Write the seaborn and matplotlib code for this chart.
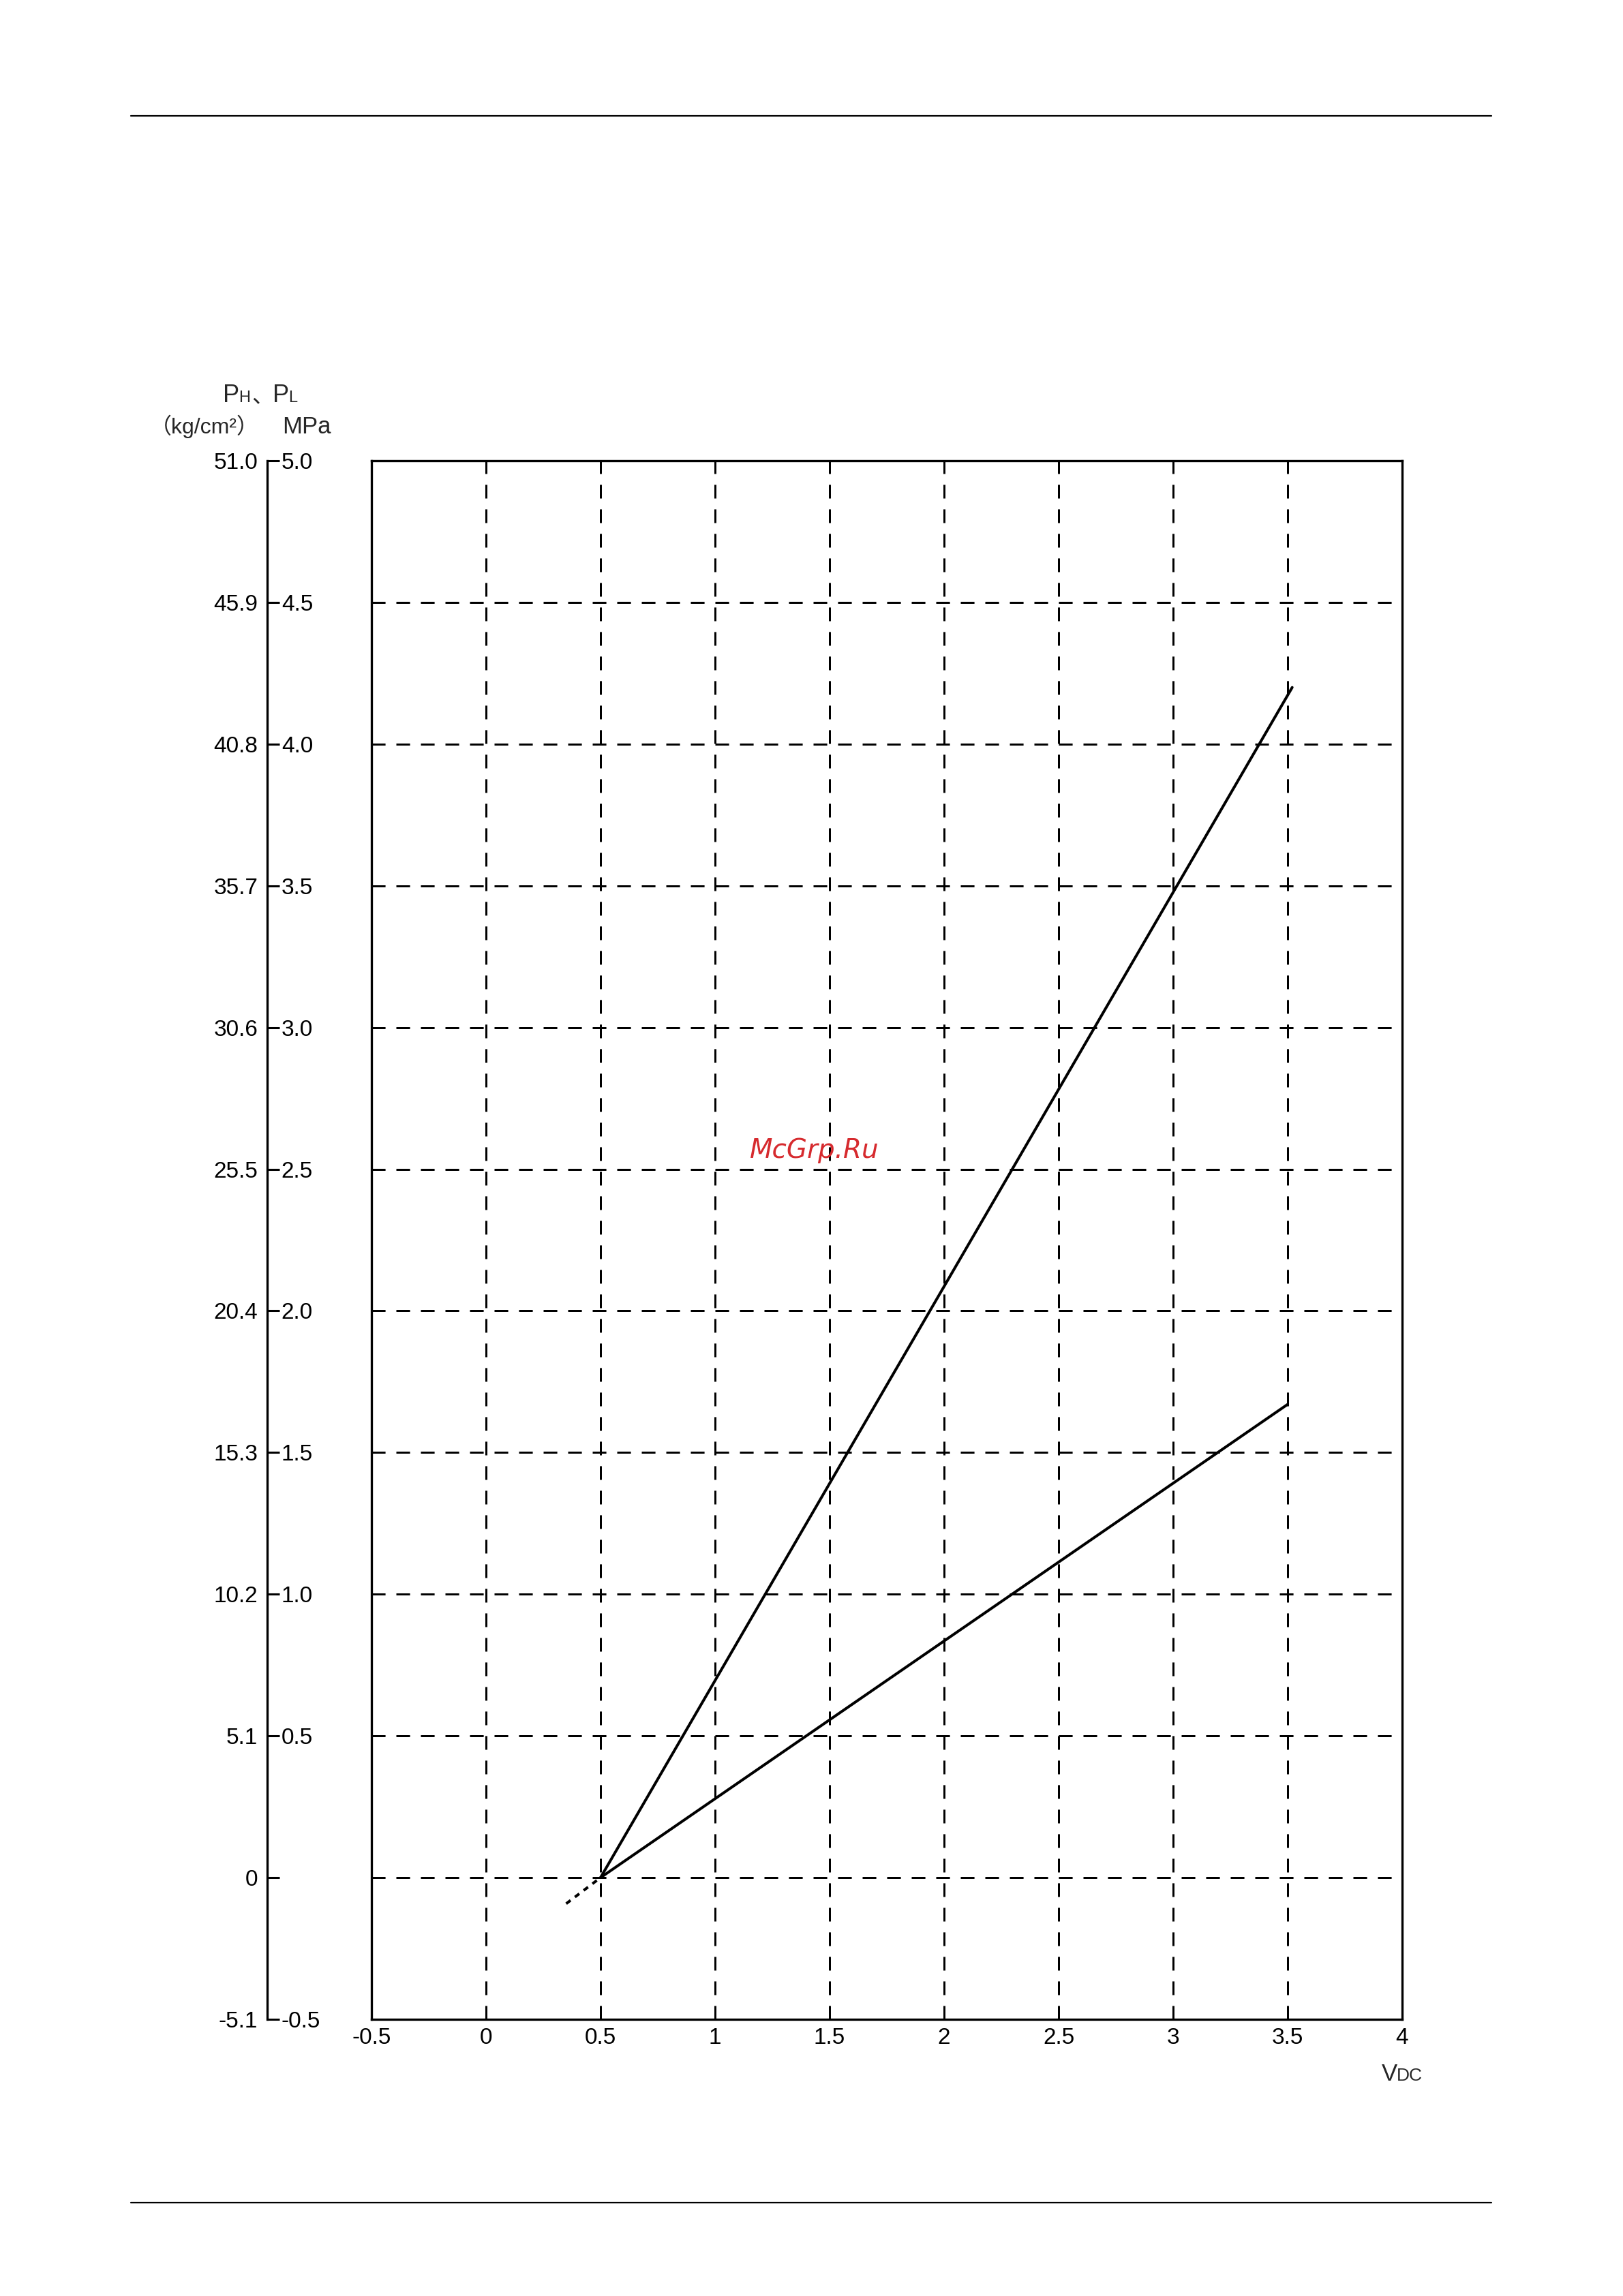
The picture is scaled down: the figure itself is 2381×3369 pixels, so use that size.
import numpy as np
import pandas as pd
import matplotlib
matplotlib.use('Agg')
import matplotlib.pyplot as plt
import seaborn as sns
from matplotlib.lines import Line2D

# lines (VDC -> MPa)
ph_v = [0.5, 3.52]
ph_p = [0.0, 4.2]
pl_v = [0.5, 3.5]
pl_p = [0.0, 1.67]
ext_v = [0.35, 0.5]
ext_p = [-0.092, 0.0]

x_ticks = [-0.5, 0, 0.5, 1, 1.5, 2, 2.5, 3, 3.5, 4]
x_labels = ['-0.5', '0', '0.5', '1', '1.5', '2', '2.5', '3', '3.5', '4']
y_ticks = [5.0, 4.5, 4.0, 3.5, 3.0, 2.5, 2.0, 1.5, 1.0, 0.5, 0.0, -0.5]
mpa_labels = ['5.0', '4.5', '4.0', '3.5', '3.0', '2.5', '2.0', '1.5', '1.0', '0.5', '', '-0.5']
kg_labels = ['51.0', '45.9', '40.8', '35.7', '30.6', '25.5', '20.4', '15.3', '10.2', '5.1', '0', '-5.1']

sns.set_theme(style='white')
plt.rcParams['font.family'] = ['Liberation Sans', 'Noto Sans CJK JP', 'DejaVu Sans']

W, H = 2381, 3369
DPI = 200
fig = plt.figure(figsize=(W / DPI, H / DPI), dpi=DPI)
fig.patch.set_facecolor('white')


def fx(px):
    return px / W


def fy(py):
    return 1 - py / H


top, bot = 676, 2963
ax = fig.add_axes([fx(545), fy(bot), fx(2057) - fx(545), fy(top) - fy(bot)])

df_ph = pd.DataFrame({'V': ph_v, 'P': ph_p})
df_pl = pd.DataFrame({'V': pl_v, 'P': pl_p})
df_ext = pd.DataFrame({'V': ext_v, 'P': ext_p})
sns.lineplot(data=df_ph, x='V', y='P', ax=ax, color='black', lw=1.45)
sns.lineplot(data=df_pl, x='V', y='P', ax=ax, color='black', lw=1.45)
sns.lineplot(data=df_ext, x='V', y='P', ax=ax, color='black', lw=1.45, linestyle=(0, (2, 2)))

ax.set_xlim(-0.5, 4)
ax.set_ylim(-0.5, 5)
ax.set_xticks(x_ticks)
ax.set_xticklabels(x_labels)
ax.set_yticks(y_ticks)
ax.set_xlabel('')
ax.set_ylabel('')
ax.tick_params(axis='x', length=0, labelsize=12, pad=4.3, colors='black')
ax.tick_params(axis='y', length=0, labelleft=False)
ax.grid(True, color='black', lw=1.08, linestyle=(0, (6.7, 5.3)))
for s in ax.spines.values():
    s.set_visible(True)
    s.set_color('black')
    s.set_linewidth(1.2)

# separate scale on the left: kg/cm2 on the left side, MPa on the right
axl = fig.add_axes([fx(392), fy(bot), fx(410) - fx(392), fy(top) - fy(bot)])
axl.set_ylim(-0.5, 5)
axl.set_xlim(0, 1)
axl.set_xticks([])
axl.set_yticks(y_ticks)
axl.set_yticklabels(kg_labels)
axl.tick_params(axis='y', left=True, direction='in', length=6.5, width=1.1,
                labelsize=12, pad=5, colors='black')
for k, s in axl.spines.items():
    s.set_visible(k == 'left')
    s.set_color('black')
    s.set_linewidth(1.2)
axl.patch.set_alpha(0)

axr = axl.twinx()
axr.set_ylim(-0.5, 5)
axr.set_yticks(y_ticks)
axr.set_yticklabels(mpa_labels)
axr.tick_params(axis='y', right=True, length=0, labelsize=12, pad=1, colors='black')
for s in axr.spines.values():
    s.set_visible(False)
axr.patch.set_alpha(0)

# header texts
fig.text(fx(327), fy(590), 'P', fontsize=13, va='baseline')
fig.text(fx(350), fy(590), 'H', fontsize=8.5, va='baseline')
fig.text(fx(369), fy(590), '、', fontsize=11.5, va='baseline', family=['Noto Sans CJK JP'])
fig.text(fx(400), fy(590), 'P', fontsize=13, va='baseline')
fig.text(fx(423), fy(590), 'L', fontsize=8.5, va='baseline')
fig.text(fx(380), fy(636), '（kg/cm²）', fontsize=11.5, va='baseline', ha='right')
fig.text(fx(414), fy(636), 'MPa', fontsize=12.5, va='baseline')

# x axis label
fig.text(fx(2027), fy(3053), 'V', fontsize=12.5, va='baseline')
fig.text(fx(2049), fy(3053), 'DC', fontsize=9.5, va='baseline')

# watermark
fig.text(0.502, 0.499, 'McGrp.Ru', fontsize=14, color='#d62a2e', style='italic',
         ha='center', va='center', family=['DejaVu Sans'])

# page rules
fig.add_artist(Line2D([fx(192), fx(2188)], [fy(170), fy(170)], color='black', lw=0.8))
fig.add_artist(Line2D([fx(192), fx(2188)], [fy(3232), fy(3232)], color='black', lw=0.8))

fig.savefig('out.png', dpi=DPI)
